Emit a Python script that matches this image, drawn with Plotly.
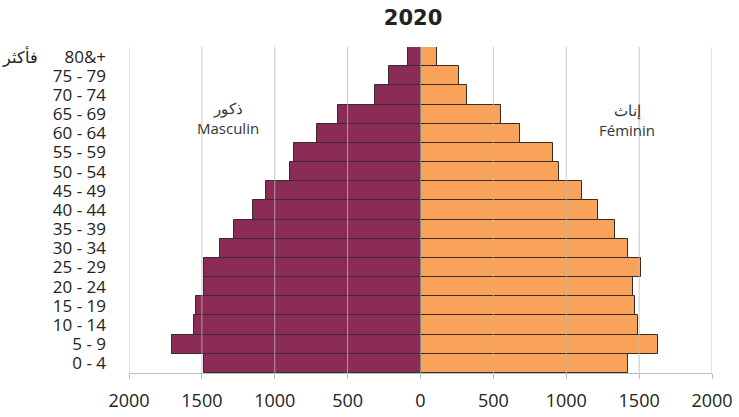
import plotly.graph_objects as go

age_groups = ["0 - 4", "5 - 9", "10 - 14", "15 - 19", "20 - 24", "25 - 29", "30 - 34",
              "35 - 39", "40 - 44", "45 - 49", "50 - 54", "55 - 59", "60 - 64",
              "65 - 69", "70 - 74", "75 - 79", "80&+"]
top_group_arabic = "فأكثر"
male = [1488, 1708, 1557, 1543, 1486, 1488, 1379, 1282, 1152, 1060, 898, 871, 711, 569, 313, 213, 89]
female = [1427, 1632, 1495, 1475, 1461, 1512, 1425, 1337, 1221, 1111, 947, 912, 686, 553, 322, 261, 112]
tick_vals = [-2000, -1500, -1000, -500, 0, 500, 1000, 1500, 2000]
tick_text = ["2000", "1500", "1000", "500", "0", "500", "1000", "1500", "2000"]

FONT = "Open Sans"

fig = go.Figure()
fig.add_trace(go.Bar(
    y=age_groups, x=[-v for v in male], orientation="h", name="Masculin",
    marker=dict(color="#8A2C56", line=dict(color="#3a2a2e", width=1)),
))
fig.add_trace(go.Bar(
    y=age_groups, x=female, orientation="h", name="Féminin",
    marker=dict(color="#F9A25A", line=dict(color="#3a2a20", width=1)),
))

# grid lines drawn over the bars, as in the reference
shapes = []
for v in tick_vals:
    shapes.append(dict(type="line", xref="x", yref="paper", x0=v, x1=v, y0=0, y1=1,
                       layer="above",
                       line=dict(color="rgba(150,150,150,0.85)" if v == 0 else "rgba(185,185,185,0.8)",
                                 width=1)))

fig.update_layout(
    width=739, height=417,
    margin=dict(l=129, r=27, t=47, b=44, autoexpand=False),
    barmode="overlay", bargap=0,
    showlegend=False,
    plot_bgcolor="white", paper_bgcolor="white",
    font=dict(family=FONT, size=18, color="#222222"),
    title=dict(text="<b>2020</b>", x=0.559, xanchor="center", y=0.958, yanchor="middle",
               font=dict(family="DejaVu Sans", size=21, color="#222222")),
    xaxis=dict(range=[-2000, 2000], tickvals=tick_vals, ticktext=tick_text,
               showgrid=False, zeroline=False,
               showline=True, linecolor="#bdbdbd", linewidth=1,
               ticks="outside", ticklen=5, tickcolor="#bdbdbd",
               ticklabelstandoff=6, automargin=False,
               tickfont=dict(family=FONT, size=18, color="#222222")),
    yaxis=dict(categoryorder="array", categoryarray=age_groups,
               tickmode="array", tickvals=age_groups, ticktext=age_groups,
               range=[-0.5, len(age_groups) - 0.5],
               showgrid=False, showline=False, ticks="", zeroline=False,
               ticklabelstandoff=22, automargin=False,
               tickfont=dict(family=FONT, size=17, color="#222222")),
    shapes=shapes,
    annotations=[
        dict(x=-0.152, y=age_groups[-1], xref="paper", yref="y", xanchor="right",
             yanchor="middle", text=top_group_arabic, showarrow=False,
             font=dict(family=FONT, size=16, color="#222222")),
        dict(x=-1322, y=12.8, xref="x", yref="y", text="ذكور<br>Masculin", showarrow=False,
             font=dict(family=FONT, size=15, color="#333333"), align="center"),
        dict(x=1420, y=12.7, xref="x", yref="y", text="إناث<br>Féminin", showarrow=False,
             font=dict(family=FONT, size=15, color="#333333"), align="center"),
    ],
)

fig.write_html("out.html", config={"displayModeBar": False},
               post_script="document.body.style.margin='0';document.body.style.overflow='hidden';")
